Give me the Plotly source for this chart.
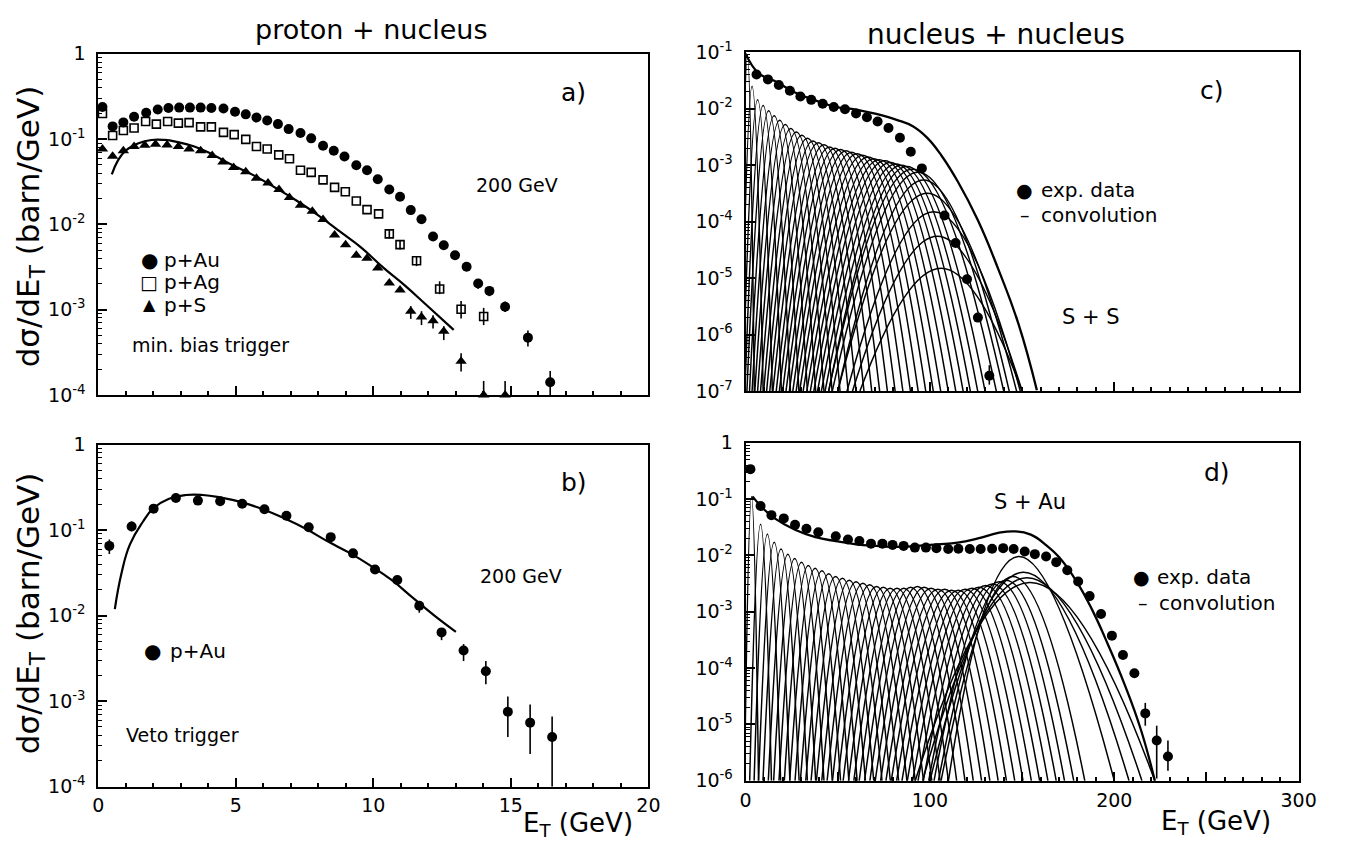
import plotly.graph_objects as go

# ---------------- panel a: p + nucleus, min. bias trigger, 200 GeV ----------------
a_au_et = [0.15, 0.52, 0.91, 1.30, 1.74, 2.16, 2.55, 2.94, 3.33, 3.72, 4.11, 4.55, 4.97,
           5.36, 5.75, 6.14, 6.53, 6.92, 7.35, 7.74, 8.17, 8.56, 8.95, 9.38, 9.77, 10.16,
           10.58, 10.97, 11.36, 11.75, 12.17, 12.56, 12.97, 13.39, 13.81, 14.22, 14.79,
           15.62, 16.43]
a_au_val = [0.238, 0.141, 0.157, 0.183, 0.204, 0.222, 0.232, 0.234, 0.234, 0.234, 0.232,
            0.228, 0.209, 0.195, 0.179, 0.165, 0.150, 0.131, 0.118, 0.102, 0.0834, 0.0731,
            0.0625, 0.0493, 0.0432, 0.0339, 0.0256, 0.0211, 0.0147, 0.0115, 0.00721,
            0.00569, 0.00434, 0.00319, 0.00203, 0.00166, 0.00108, 4.7e-4, 1.41e-4]
a_au_tail_up = [2.5e-4, 2.1e-4, 1.7e-4, 1.0e-4, 5.0e-5]
a_au_tail_dn = [2.7e-4, 2.2e-4, 1.4e-4, 1.0e-4, 4.1e-5]

a_ag_et = [0.15, 0.52, 0.91, 1.30, 1.72, 2.11, 2.52, 2.91, 3.30, 3.72, 4.11, 4.55, 4.94,
           5.36, 5.75, 6.14, 6.56, 6.95, 7.35, 7.74, 8.17, 8.59, 8.98, 9.38, 9.77, 10.19,
           10.58, 10.97, 11.57, 12.41, 13.19, 14.01]
a_ag_val = [0.200, 0.110, 0.126, 0.135, 0.161, 0.150, 0.161, 0.154, 0.156, 0.139, 0.139,
            0.120, 0.113, 0.0993, 0.082, 0.0764, 0.0653, 0.0588, 0.0432, 0.0407, 0.0333,
            0.0272, 0.0241, 0.0188, 0.0149, 0.0133, 0.00773, 0.00579, 0.00374, 0.00175,
            0.00101, 8.3e-4]
a_ag_tail_up = [9e-4, 7e-4, 5e-4, 4e-4, 2.5e-4, 2.2e-4]
a_ag_tail_dn = [9e-4, 7e-4, 5e-4, 2.3e-4, 2.2e-4, 1.7e-4]

a_s_et = [0.15, 0.52, 0.91, 1.30, 1.69, 2.08, 2.50, 2.91, 3.30, 3.72, 4.14, 4.53, 4.92,
          5.36, 5.75, 6.17, 6.57, 6.95, 7.35, 7.78, 8.17, 8.59, 8.99, 9.38, 9.77, 10.16,
          10.58, 10.97, 11.36, 11.75, 12.17, 12.56, 13.19, 14.01, 14.79]
a_s_val = [0.0764, 0.063, 0.0731, 0.082, 0.0849, 0.0871, 0.085, 0.082, 0.0764, 0.0731,
           0.0641, 0.0538, 0.0464, 0.0414, 0.0348, 0.0305, 0.0256, 0.0206, 0.0168, 0.0143,
           0.0114, 0.00753, 0.00579, 0.00434, 0.00401, 0.00309, 0.00206, 0.0017, 9.6e-4,
           8.2e-4, 7.4e-4, 5.6e-4, 2.48e-4, 1.0e-4, 1.0e-4]
a_s_tail_up = [1.4e-4, 1.4e-4, 1.2e-4, 8e-5, 6e-5, 4.6e-5, 4.6e-5]
a_s_tail_dn = [1.8e-4, 1.6e-4, 1.4e-4, 1.2e-4, 6e-5, 0, 0]

# model curve through the p+S data
a_fit_et = [0.49, 0.71, 0.99, 1.46, 1.93, 2.40, 2.86, 3.49, 4.11, 4.89, 5.67, 6.45, 7.23,
            8.01, 8.79, 9.57, 10.35, 11.13, 11.91, 12.92]
a_fit_val = [0.0386, 0.056, 0.0731, 0.0895, 0.0977, 0.0977, 0.0926, 0.082, 0.067, 0.0493,
             0.0373, 0.0267, 0.0188, 0.0127, 0.00822, 0.00531, 0.00313, 0.00194, 0.00115,
             5.8e-4]

# ---------------- panel b: p + Au, veto trigger, 200 GeV ----------------
b_et = [0.40, 1.21, 2.01, 2.82, 3.62, 4.43, 5.23, 6.04, 6.84, 7.65, 8.45, 9.26, 10.06,
        10.87, 11.67, 12.48, 13.28, 14.09, 14.89, 15.70, 16.50]
b_val = [0.0653, 0.110, 0.178, 0.237, 0.221, 0.217, 0.203, 0.175, 0.147, 0.108, 0.0826,
         0.0534, 0.0345, 0.0261, 0.0130, 0.00636, 0.0039, 0.00223, 7.5e-4, 5.6e-4, 3.8e-4]
b_err_up = [0.0122, 0.016, 0.01, 0.01, 0.01, 0.01, 0.01, 0.008, 0.007, 0.006, 0.005, 0.003,
            0.002, 0.0015, 0.0018, 0.0007, 0.00074, 0.00071, 0.00038, 0.00035, 0.00028]
b_err_dn = [0.0129, 0.013, 0.01, 0.01, 0.01, 0.01, 0.01, 0.008, 0.007, 0.006, 0.005, 0.003,
            0.002, 0.0015, 0.0022, 0.0012, 0.00096, 0.00066, 0.00037, 0.00032, 0.00028]
b_fit_et = [0.60, 0.84, 1.15, 1.62, 2.01, 2.55, 3.18, 3.80, 4.42, 5.20, 5.98, 6.76, 7.54,
            8.32, 9.10, 9.88, 10.66, 11.44, 12.22, 13.0]
b_fit_val = [0.0119, 0.031, 0.068, 0.125, 0.181, 0.231, 0.257, 0.257, 0.241, 0.212, 0.175,
             0.137, 0.1035, 0.0743, 0.0548, 0.0387, 0.0261, 0.0161, 0.01, 0.00646]

# ---------------- panel c: S + S ----------------
c_et = [5.9, 12.1, 18.0, 24.0, 29.7, 35.6, 41.8, 47.8, 53.9, 59.9, 65.8, 71.6, 77.5, 83.7,
        89.6, 95.6, 107.9, 113.9, 120.1, 126.0, 132.2]
c_val = [0.0406, 0.0332, 0.0265, 0.0209, 0.0165, 0.0144, 0.0123, 0.0108, 0.00985, 0.0083,
         0.00708, 0.00595, 0.00458, 0.00308, 0.00174, 8.8e-4, 1.29e-4, 4.2e-5, 9.6e-6,
         2.0e-6, 1.87e-7]
c_tail_up = [1.0e-7]
c_tail_dn = [0.57e-7]
c_conv_et = [0, 7.0, 15.8, 26.8, 37.9, 48.9, 59.9, 70.9, 81.9, 90.7, 98.4, 106.2, 115.0,
             126.0, 137.0, 148.0, 158.0]
c_conv_val = [0.095, 0.043, 0.031, 0.0195, 0.0141, 0.0108, 0.0097, 0.0081, 0.00637,
              0.00489, 0.00308, 0.00149, 5.2e-4, 1.06e-4, 1.46e-5, 1.55e-6, 1.03e-7]
# individual n-fold terms: peak position / height and where each meets the floor
c_term_peak = [1, 3.5, 6.5, 9.5, 12.5, 15.5, 18.5, 21.5, 24.5, 27.5, 30.5, 33.5, 36.5, 39.5,
               42.5, 45.5, 48.5, 51.5, 54.5, 57.5, 60.5, 63.5, 66.5, 69.5, 72.5, 75.5, 78.5,
               81.5, 84.5, 87.5, 90.5, 93.5, 96.5, 98.5, 102, 104, 106]
c_term_val = [0.09, 0.025, 0.0145, 0.0115, 0.0092, 0.0075, 0.0063, 0.0053, 0.0045, 0.0039,
              0.0034, 0.0030, 0.0027, 0.0025, 0.0023, 0.0021, 0.0020, 0.0019, 0.0018,
              0.0017, 0.0016, 0.0015, 0.0014, 0.0013, 0.00125, 0.0012, 0.00112, 0.00105,
              0.0010, 0.00095, 0.00085, 0.00075, 0.00055, 0.00032, 0.00015, 5.5e-5, 1.5e-5]
c_term_lo = [-2.7, -2.5, -1.5, -0.4, 0.7, 2.1, 3.5, 5.0, 6.5, 8.1, 9.8, 11.4, 13.1, 14.8,
             16.6, 18.3, 20.1, 21.9, 23.7, 25.6, 27.4, 29.3, 31.2, 33.2, 35.1, 37.0, 39.0,
             41.1, 43.1, 45.1, 45, 47, 50, 50, 55, 58, 62]
c_term_hi = [4.7, 9.5, 14.5, 19.4, 24.3, 28.9, 33.5, 38.0, 42.5, 46.9, 51.2, 55.6, 59.9,
             64.2, 68.4, 72.7, 76.9, 81.1, 85.3, 89.4, 93.6, 97.7, 101.8, 105.8, 109.9,
             114.0, 118.0, 121.9, 125.9, 129.9, 136, 140, 143, 147, 149, 150, 150]

# ---------------- panel d: S + Au ----------------
d_et = [2.6, 8.1, 14.0, 20.7, 26.8, 33.0, 39.4, 48.9, 55.5, 61.7, 68.0, 74.2, 79.7, 85.7,
        91.8, 97.8, 103.5, 109.9, 115.4, 121.6, 127.5, 133.7, 139.7, 145.4, 151.4, 156.9,
        163.0, 168.5, 174.5, 180.4, 186.6, 192.8, 198.7, 204.7, 210.9, 216.8, 223.0, 229.1]
d_val = [0.338, 0.0748, 0.0516, 0.0452, 0.0347, 0.0296, 0.0256, 0.0218, 0.0191, 0.0179,
         0.0161, 0.0161, 0.0153, 0.0147, 0.0137, 0.0137, 0.0134, 0.0129, 0.0131, 0.0129,
         0.0129, 0.0131, 0.0134, 0.0129, 0.0117, 0.0105, 0.0095, 0.00757, 0.00544, 0.00342,
         0.00189, 9.1e-4, 3.76e-4, 1.7e-4, 8.1e-5, 1.57e-5, 5.2e-6, 2.7e-6]
d_tail_up = [8.4e-6, 4.3e-6, 2.5e-6]
d_tail_dn = [6.2e-6, 4.1e-6, 1.2e-6]
d_conv_et = [3.7, 9.2, 15.8, 26.8, 37.9, 48.9, 59.9, 70.9, 81.9, 93.0, 104.0, 115.0, 126.0,
             137.0, 145.8, 154.7, 163.5, 170.1, 179.0, 187.8, 196.6, 205.4, 214.3, 222.0]
d_conv_val = [0.111, 0.069, 0.0452, 0.0284, 0.021, 0.0179, 0.0157, 0.0147, 0.0141, 0.0147,
              0.0157, 0.0168, 0.0199, 0.0249, 0.0266, 0.0233, 0.0147, 0.0092, 0.00366,
              0.00111, 2.6e-4, 5.3e-5, 8.3e-6, 1.0e-6]
d_term_peak = [3.2, 8.1, 11.8, 15.5, 19.2, 22.9, 26.6, 30.3, 34.0, 37.7, 41.4, 45.1, 48.8,
               52.5, 56.2, 59.9, 63.6, 67.3, 71.0, 74.7, 78.4, 82.1, 85.8, 89.5, 93.2, 96.9,
               100.6, 104.3, 108.0, 111.7, 115.4, 119.1, 122.8, 126.5, 130.2, 133.9, 137.6,
               141.3, 145.0, 148.0, 150.5, 152.5, 154.0]
d_term_val = [0.111, 0.0356, 0.024, 0.017, 0.013, 0.0105, 0.0088, 0.0075, 0.0066, 0.0059,
              0.0053, 0.0047, 0.0042, 0.0039, 0.0036, 0.0034, 0.0032, 0.0030, 0.0028, 0.0027,
              0.0026, 0.0026, 0.0026, 0.0027, 0.0028, 0.0027, 0.0026, 0.0025, 0.0025, 0.0024,
              0.0024, 0.0025, 0.0026, 0.0027, 0.0029, 0.0031, 0.0034, 0.0036, 0.0042, 0.0095,
              0.0050, 0.0040, 0.0033]
d_term_lo = [-0.6, 2.2, 4.6, 7, 9.4, 12.3, 15.2, 18.1, 21, 23.9, 26.8, 29.7, 32.6, 35.5,
             38.4, 41.3, 44.2, 47.1, 50, 52.9, 55.8, 58.7, 61.6, 64.5, 67.4, 70.3, 73.2, 76.1,
             79, 81.9, 84.8, 87.7, 90.6, 93.5, 96.4, 99.3, 102.2, 104.6, 106, 110, 100, 96, 92]
d_term_hi = [7, 14, 19, 24, 29, 33.5, 38, 42.5, 47, 51.5, 56, 60.5, 65, 69.5, 74, 78.5, 83,
             87.5, 92, 96.5, 101, 105.5, 110, 114.5, 119, 123.5, 128, 132.5, 137, 141.5, 146,
             150.5, 155, 159.5, 164, 168.5, 173, 178, 184, 200, 208, 215, 222]

C_FLOOR = 1e-7
D_FLOOR = 1e-6

FONT = "DejaVu Sans"
W, H = 1352, 854


def tail_bars(n, up, dn):
    pad = [0] * (n - len(up))
    return pad + up, pad + dn


def arches(peak, val, lo, hi, floor):
    xs, ys = [], []
    for p, v, l, h in zip(peak, val, lo, hi):
        xs += [l, p, h, None]
        ys += [floor, v, floor, None]
    return xs, ys


fig = go.Figure()


def points(x, y, xa, ya, symbol, size, up=None, dn=None, lw=0):
    err = None
    if up is not None:
        err = dict(type="data", symmetric=False, array=up, arrayminus=dn,
                   color="black", thickness=1.6, width=0)
    fig.add_trace(go.Scatter(
        x=x, y=y, xaxis=xa, yaxis=ya, mode="markers", cliponaxis=False,
        marker=dict(symbol=symbol, size=size, color="black",
                    line=dict(color="black", width=lw)),
        error_y=err))


def curve(x, y, xa, ya, width):
    fig.add_trace(go.Scatter(
        x=x, y=y, xaxis=xa, yaxis=ya, mode="lines",
        line=dict(color="black", width=width, shape="spline", smoothing=1.3),
        connectgaps=False))


# panel a
curve(a_fit_et, a_fit_val, "x", "y", 2.2)
up, dn = tail_bars(len(a_ag_val), a_ag_tail_up, a_ag_tail_dn)
points(a_ag_et, a_ag_val, "x", "y", "square-open", 8, up, dn, lw=1.6)
up, dn = tail_bars(len(a_s_val), a_s_tail_up, a_s_tail_dn)
points(a_s_et, a_s_val, "x", "y", "triangle-up", 10, up, dn)
up, dn = tail_bars(len(a_au_val), a_au_tail_up, a_au_tail_dn)
points(a_au_et, a_au_val, "x", "y", "circle", 10, up, dn)

# panel b
curve(b_fit_et, b_fit_val, "x2", "y2", 2.2)
points(b_et, b_val, "x2", "y2", "circle", 10, b_err_up, b_err_dn)

# panel c
cx, cy = arches(c_term_peak, c_term_val, c_term_lo, c_term_hi, C_FLOOR)
curve(cx, cy, "x3", "y3", 1.5)
curve(c_conv_et, c_conv_val, "x3", "y3", 2.3)
up, dn = tail_bars(len(c_val), c_tail_up, c_tail_dn)
points(c_et, c_val, "x3", "y3", "circle", 10, up, dn)

# panel d
dx, dy = arches(d_term_peak, d_term_val, d_term_lo, d_term_hi, D_FLOOR)
curve(dx, dy, "x4", "y4", 1.5)
curve(d_conv_et, d_conv_val, "x4", "y4", 2.3)
up, dn = tail_bars(len(d_val), d_tail_up, d_tail_dn)
points(d_et, d_val, "x4", "y4", "circle", 10, up, dn)


def px(x):
    return x / W


def py(y):
    return 1 - y / H


frame = dict(showline=True, linecolor="black", linewidth=2, mirror=True, ticks="inside",
             tickcolor="black", tickwidth=1.5, showgrid=False, zeroline=False,
             tickfont=dict(family=FONT, size=19, color="black"))

left_dom = [px(94), px(654)]
right_dom = [px(753), px(1316)]

et_small = dict(frame, range=[0, 20], dtick=5, tick0=0, ticklen=9, ticklabelstandoff=1,
                minor=dict(dtick=1, ticks="inside", ticklen=4, tickcolor="black",
                           tickwidth=1.5, showgrid=False))
et_large = dict(frame, range=[0, 300], tickmode="array",
                tickvals=[0, 50, 100, 150, 200, 250, 300],
                ticktext=["0", "", "100", "", "200", "", "300"], ticklen=9,
                ticklabelstandoff=1,
                minor=dict(dtick=10, ticks="inside", ticklen=4, tickcolor="black",
                           tickwidth=1.5, showgrid=False))


def decade_label(e):
    return "1" if e == 0 else "10<sup>-%d</sup>" % (-e)


def logax(lo, hi, dom, anchor):
    exps = list(range(lo, hi + 1))
    return dict(frame, type="log", range=[lo, hi], tickmode="array",
                tickvals=[10.0 ** e for e in exps],
                ticktext=[decade_label(e) for e in exps],
                ticklen=9, ticklabelstandoff=7, domain=dom, anchor=anchor,
                minor=dict(dtick="D1", ticks="inside", ticklen=4, tickcolor="black",
                           tickwidth=1.2, showgrid=False))


fig.update_layout(
    width=W, height=H, margin=dict(l=0, r=0, t=0, b=0),
    paper_bgcolor="white", plot_bgcolor="white", showlegend=False,
    font=dict(family=FONT, color="black"),
    xaxis=dict(et_small, domain=left_dom, anchor="y", showticklabels=False),
    yaxis=logax(-4, 0, [py(393), py(42)], "x"),
    xaxis2=dict(et_small, domain=left_dom, anchor="y2"),
    yaxis2=logax(-4, 0, [py(796), py(444)], "x2"),
    xaxis3=dict(et_large, domain=right_dom, anchor="y3", showticklabels=False),
    yaxis3=logax(-7, -1, [py(389), py(40.5)], "x3"),
    xaxis4=dict(et_large, domain=right_dom, anchor="y4"),
    yaxis4=logax(-6, 0, [py(790), py(442)], "x4"),
)


def text(s, x, y, size, xanchor="center", angle=0, yanchor="middle"):
    fig.add_annotation(text=s, x=px(x), y=py(y), xref="paper", yref="paper",
                       showarrow=False, xanchor=xanchor, yanchor=yanchor,
                       textangle=angle, font=dict(family=FONT, size=size, color="black"))


ytitle = "d\u03c3/dE<sub>T</sub> (barn/GeV)"
xtitle = "E<sub>T</sub> (GeV)"

text("proton + nucleus", 372, 17, 27)
text("nucleus + nucleus", 1008, 22, 28)

text(ytitle, 25, 220, 31, angle=-90)
text(ytitle, 25, 618, 31, angle=-90)
text(xtitle, 640, 854, 26, xanchor="right", yanchor="bottom")
text(xtitle, 1290, 852, 26, xanchor="right", yanchor="bottom")

# panel a labels
text("a)", 578, 82, 25)
text("200 GeV", 520, 177, 19)
text("\u25cf", 146, 254, 20)
text("p+Au", 159, 254, 20, xanchor="left")
text("\u25a1", 146, 277, 19)
text("p+Ag", 159, 277, 20, xanchor="left")
text("\u25b2", 146, 300, 16)
text("p+S", 159, 300, 20, xanchor="left")
text("min. bias trigger", 126, 342, 19, xanchor="left")

# panel b labels
text("b)", 578, 483, 25)
text("200 GeV", 524, 579, 19)
text("\u25cf", 149, 656, 20)
text("p+Au", 165, 656, 20, xanchor="left")
text("Veto trigger", 120, 743, 19, xanchor="left")

# panel c labels
text("c)", 1228, 80, 25)
text("\u25cf", 1037, 182, 19)
text("exp. data", 1052, 182, 20, xanchor="left")
text("\u2013", 1037, 208, 19)
text("convolution", 1052, 208, 20, xanchor="left")
text("S + S", 1105, 313, 21)

# panel d labels
text("d)", 1233, 473, 25)
text("S + Au", 1043, 503, 21)
text("\u25cf", 1156, 580, 19)
text("exp. data", 1170, 580, 20, xanchor="left")
text("\u2013", 1158, 607, 19)
text("convolution", 1172, 607, 20, xanchor="left")

fig.write_html("out.html")
